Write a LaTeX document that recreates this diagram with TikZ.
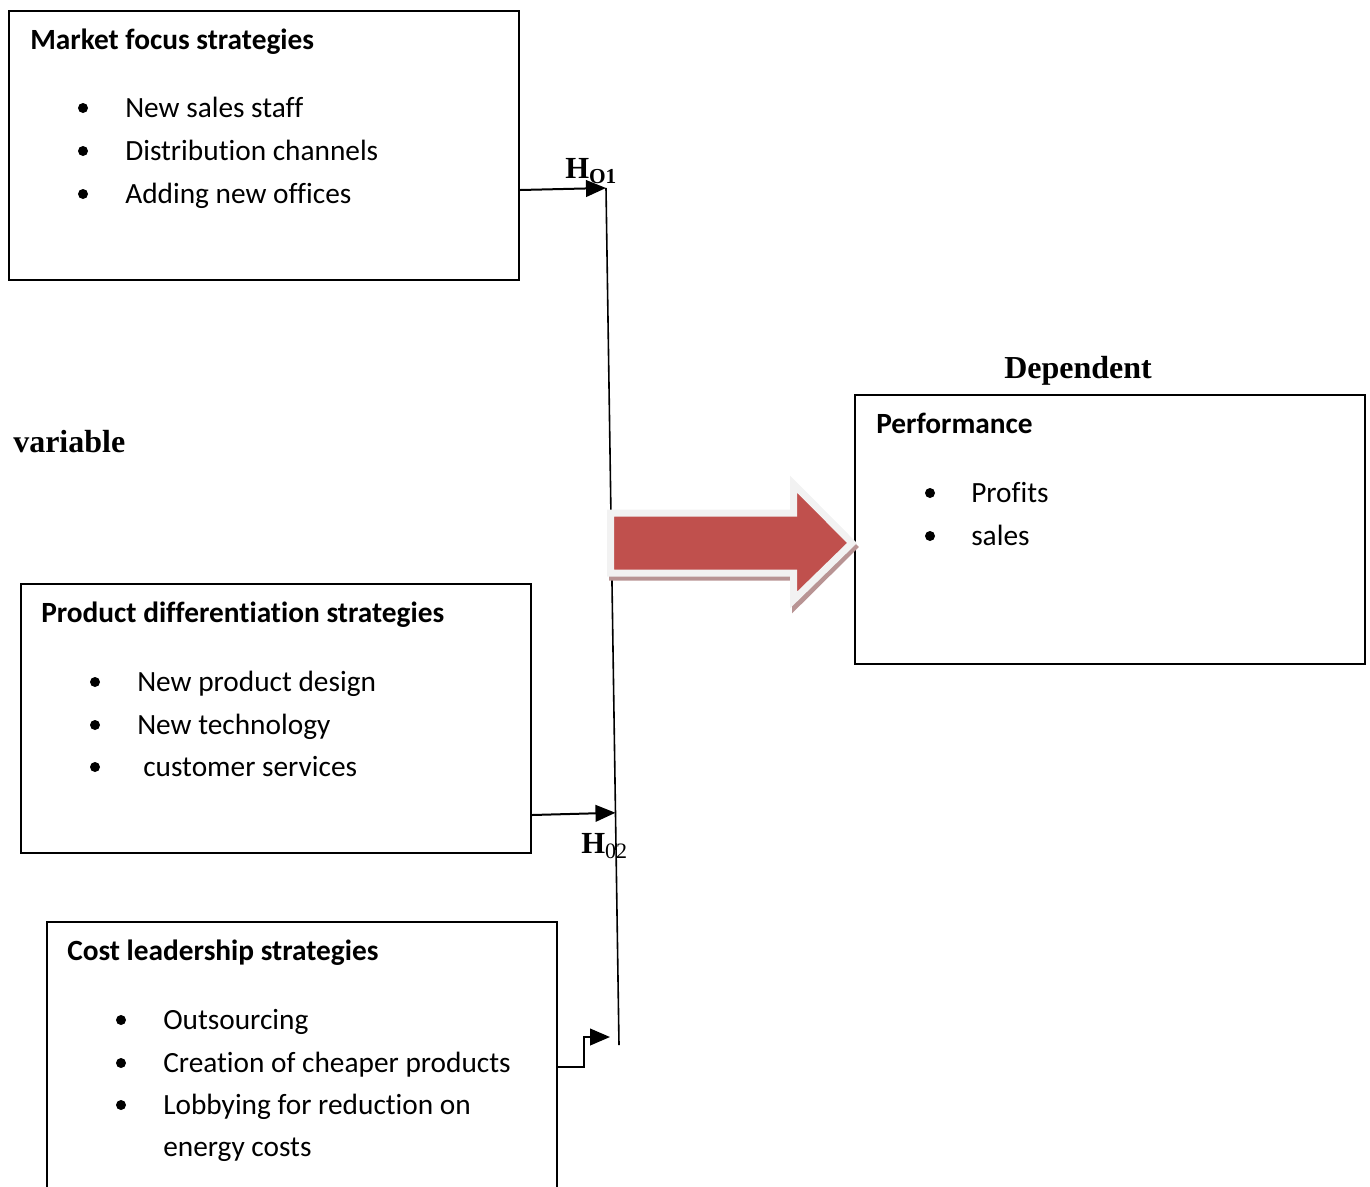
\documentclass[tikz,border=0pt]{standalone}
\usepackage{fontspec}
\setmainfont{Carlito}[Ligatures=NoCommon]
\newfontfamily\tnr{Liberation Serif}
\usetikzlibrary{arrows.meta,calc}
\definecolor{arrred}{HTML}{C0504D}
\definecolor{arrline}{HTML}{F2F2F2}
\definecolor{arrshadow}{HTML}{B89494}
\tikzset{
  box/.style={draw, line width=1.5pt, inner sep=0pt, anchor=north west, minimum width=382.5pt, minimum height=201.75pt},
  title/.style={anchor=base west, inner sep=0pt, font=\fontsize{22}{26}\selectfont\bfseries},
  item/.style={anchor=base west, inner sep=0pt, font=\fontsize{22}{26}\selectfont},
  bul/.style={circle, fill=black, inner sep=0pt, minimum size=7.5pt},
  head/.style={anchor=base west, inner sep=0pt, font=\tnr\bfseries\fontsize{24}{28}\selectfont},
  conn/.style={line width=1.5pt},
  arr/.style={line width=1.5pt, -{Triangle[length=15pt,width=12.5pt]}}
}
\begin{document}
\begin{tikzpicture}[x=0.75pt,y=-0.75pt]
\useasboundingbox (0,0) rectangle (1370,1186);

% boxes
\node[box] (b1) at (8,10) {};
\node[box] (b2) at (20,583) {};
\node[box, minimum height=225pt] (b3) at (46,921) {};
\node[box] (b4) at (854,394) {};

% box 1 text
\node[title] (t1) at (30,49) {Market focus strategies};
\node[bul] (p11) at (83,108) {};
\node[item] (i11) at (125,117) {New sales staff};
\node[bul] (p12) at (83,151) {};
\node[item] (i12) at (125,160) {Distribution channels};
\node[bul] (p13) at (83,194) {};
\node[item] (i13) at (125,203) {Adding new offices};

% box 2 text
\node[title] (t2) at (41,622) {Product differentiation strategies};
\node[bul] (p21) at (95,682) {};
\node[item] (i21) at (137,691) {New product design};
\node[bul] (p22) at (95,725) {};
\node[item] (i22) at (137,734) {New technology};
\node[bul] (p23) at (95,767) {};
\node[item] (i23) at (143,776) {customer services};

% box 3 text
\node[title] (t3) at (67,960) {Cost leadership strategies};
\node[bul] (p31) at (121,1020) {};
\node[item] (i31) at (163,1029) {Outsourcing};
\node[bul] (p32) at (121,1063) {};
\node[item] (i32) at (163,1072) {Creation of cheaper products};
\node[bul] (p33) at (121,1105) {};
\node[item] (i33) at (163,1114) {Lobbying for reduction on};
\node[item] (i34) at (163,1156) {energy costs};

% box 4 text
\node[title] (t4) at (876,433) {Performance};
\node[bul] (p41) at (930,493) {};
\node[item] (i41) at (971,502) {Profits};
\node[bul] (p42) at (930,536) {};
\node[item] (i42) at (971,545) {sales};

% headings
\node[head] (dep) at (1004,378) {Dependent};
\node[head] (var) at (13,452) {variable};

% vertical line and connectors
\coordinate (vtop) at (606,188);
\coordinate (vbot) at (619,1045);
\draw[line width=1.2pt] (vtop) -- (vbot);
\coordinate (h2) at ($(vtop)!0.729!(vbot)$);
\coordinate (s3) at (556,1067);
\coordinate (e3) at (610,1037);
\draw[arr] (b1.east |- 0,190) -- (vtop);
\draw[arr] (b2.east |- 0,815) -- (h2);
\draw[arr] (b3.east |- s3) -- ++(26,0) |- (e3);

% hypothesis labels
\node[anchor=base west, inner sep=0pt] (ho1) at (565,178)
  {\tnr\bfseries\fontsize{23}{26}\selectfont H\raisebox{-4pt}{\fontsize{16}{19}\selectfont O1}};
\node[anchor=base west, inner sep=0pt] (ho2) at (581,853)
  {\tnr\fontsize{23}{26}\selectfont\textbf{H}\raisebox{-4pt}{\fontsize{16.5}{19}\selectfont 02}};

% big arrow
\fill[arrshadow, draw=arrshadow, line width=5.25pt, line join=miter]
  (612.5,517) -- (795.5,517) -- (795.5,488) -- (854,547) -- (795.5,605) -- (795.5,577) -- (612.5,577) -- cycle;
\filldraw[fill=arrred, draw=arrline, line width=5.25pt, line join=miter]
  (610.5,513) -- (793.5,513) -- (793.5,484) -- (852,543) -- (793.5,600) -- (793.5,573) -- (610.5,573) -- cycle;
\end{tikzpicture}
\end{document}
